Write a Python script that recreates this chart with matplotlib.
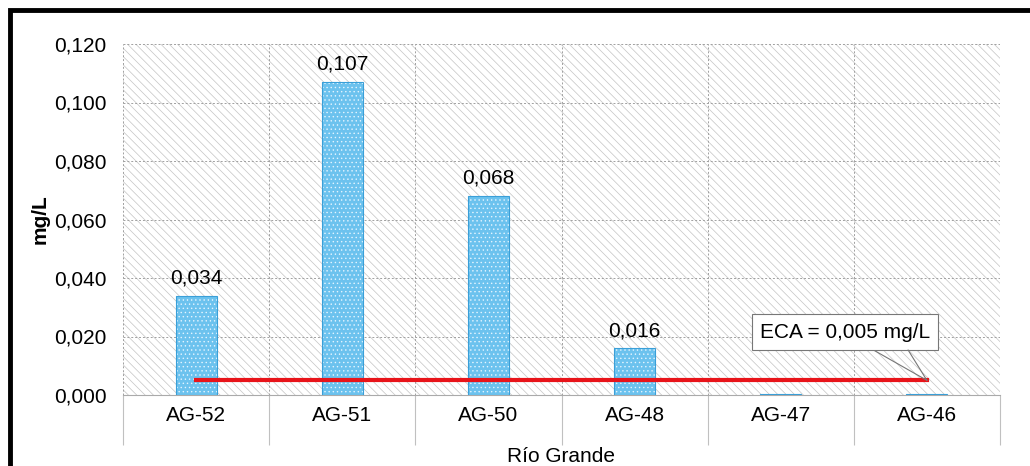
import matplotlib
matplotlib.use("Agg")
import matplotlib.pyplot as plt
from matplotlib.patches import Rectangle
from matplotlib.ticker import FixedLocator, FuncFormatter

categories = ["AG-52", "AG-51", "AG-50", "AG-48", "AG-47", "AG-46"]
values = [0.034, 0.107, 0.068, 0.016, 0.0005, 0.0005]
value_labels = ["0,034", "0,107", "0,068", "0,016", "", ""]
eca = 0.005
eca_label = "ECA = 0,005 mg/L"
yticks = [0.0, 0.02, 0.04, 0.06, 0.08, 0.10, 0.12]

plt.rcParams['font.family'] = ['Liberation Sans', 'DejaVu Sans']
plt.rcParams['hatch.linewidth'] = 0.5

FS = 15

fig = plt.figure(figsize=(10.3, 4.66), dpi=100)
ax = fig.add_axes([123/1030, 1-395/466, 877/1030, 351/466])

# hatched background
ax.add_patch(Rectangle((0, 0), 1, 1, transform=ax.transAxes, facecolor='white',
                       edgecolor='#c4c4c4', hatch='\\\\\\\\', linewidth=0, zorder=0))

x = list(range(len(categories)))
bars = ax.bar(x, values, width=0.28, color='#6cc2ee', edgecolor='#e4f4ff',
              hatch='....', linewidth=0, zorder=3)
ax.bar(x, values, width=0.28, fill=False, edgecolor='#3a9fd8', linewidth=0.8, zorder=4)

for xi, v, lab in zip(x, values, value_labels):
    if lab:
        ax.text(xi, v + 0.0028, lab, ha='center', va='bottom', fontsize=FS, zorder=5)

ax.plot([x[0], x[-1]], [eca, eca], color='#e8141a', linewidth=3, zorder=6)
box_x = x[-1] - 0.56
box_y = 0.0215
for rp, ta in [((0.58, 0.0), 1.0), ((0.84, 0.0), 0.0)]:
    ax.annotate(eca_label, xy=(x[-1], eca), xytext=(box_x, box_y),
                ha='center', va='center', fontsize=FS, zorder=7, alpha=ta,
                bbox=dict(boxstyle='square,pad=0.4', fc='white', ec='#777777', lw=0.8,
                          alpha=ta),
                arrowprops=dict(arrowstyle='-', color='#777777', lw=0.8,
                                relpos=rp, shrinkA=0, shrinkB=0))

ax.set_xlim(-0.5, len(categories) - 0.5)
ax.set_ylim(0, 0.12)
ax.yaxis.set_major_locator(FixedLocator(yticks))
ax.yaxis.set_major_formatter(FuncFormatter(lambda v, p: f"{v:.3f}".replace('.', ',')))
ax.set_xticks(x)
ax.set_xticklabels(categories, fontsize=FS)
ax.tick_params(axis='x', length=0, pad=8)
ax.tick_params(axis='y', length=0, labelsize=FS, pad=12)
ax.set_xticks([i - 0.5 for i in range(len(categories) + 1)], minor=True)
ax.tick_params(axis='x', which='minor', length=36, color='#c0c0c0', width=0.8, direction='out')

ax.grid(axis='y', color='#a0a0a0', linestyle=(0, (2, 2)), linewidth=0.7, zorder=1)
ax.grid(axis='x', which='minor', color='#a0a0a0', linestyle=(0, (2, 2)), linewidth=0.7, zorder=1)
ax.set_axisbelow(True)

for s in ['top', 'right', 'left']:
    ax.spines[s].set_visible(False)
ax.spines['bottom'].set_color('#aaaaaa')
ax.spines['bottom'].set_linewidth(0.8)

ax.set_ylabel("mg/L", fontsize=FS, fontweight='bold', labelpad=3)
fig.text(561/1030, 1 - 456/466, "Río Grande", ha='center', va='center', fontsize=FS)

# outer frame
fig.patches.append(Rectangle((10/1030, -0.05), 1.05, 1 - 10/466 + 0.05, transform=fig.transFigure,
                             fill=False, edgecolor='black', linewidth=3.5))

fig.savefig("out.png", dpi=100)
